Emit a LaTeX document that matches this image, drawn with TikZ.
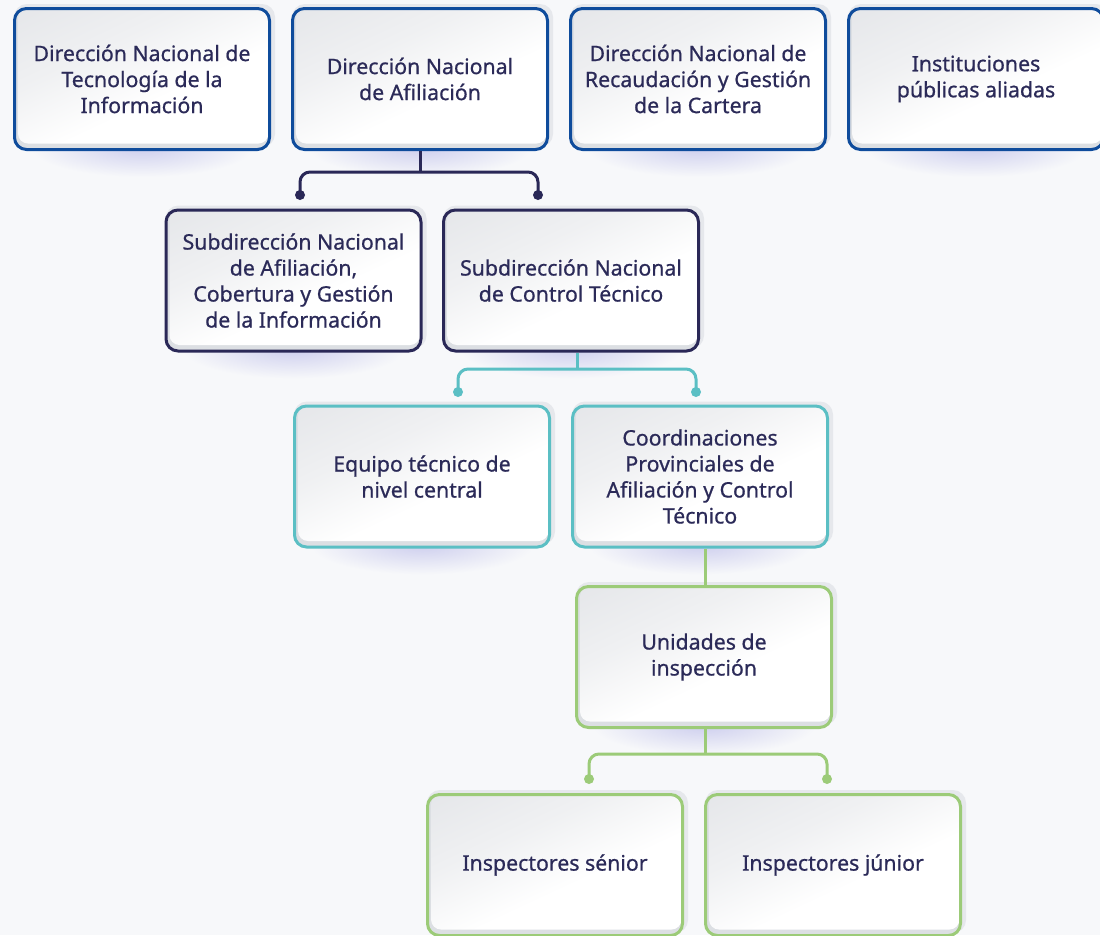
\documentclass[tikz,border=0pt]{standalone}
\usepackage{fontspec}
\newfontfamily\boxfont[FakeBold=0.7]{Noto Sans}
\usetikzlibrary{calc}

\definecolor{bg}{HTML}{F7F8FA}
\definecolor{ink}{HTML}{2B2A58}
\definecolor{cblue}{HTML}{0F4C9C}
\definecolor{cnavy}{HTML}{2A2857}
\definecolor{cteal}{HTML}{5BBFC4}
\definecolor{cgreen}{HTML}{9CCB78}
\definecolor{halo}{HTML}{E6E8EC}
\definecolor{bevel}{HTML}{DCDFE3}
\definecolor{fillgray}{HTML}{DDDFE3}
\definecolor{shadowc}{HTML}{CDCEEE}

% light gray at the top fading to white over the lower half
\pgfdeclareverticalshading{boxfade}{100bp}{%
  color(0bp)=(white); color(42bp)=(white); color(62bp)=(fillgray!45!white); color(100bp)=(fillgray)}

\pgfdeclarelayer{back}
\pgfsetlayers{back,main}

\tikzset{
  orgbox/.style={draw=#1, line width=3pt, rounded corners=12pt,
    minimum width=255pt, minimum height=141pt, inner sep=0pt,
    align=center, text=ink, font=\boxfont\fontsize{21.3}{26}\selectfont,
    path picture={
      \fill[bevel] (path picture bounding box.south west)
        rectangle (path picture bounding box.north east);
      \shade[shading=boxfade, shading angle=25, rounded corners=10pt]
        ([shift={(3.5pt,6pt)}]path picture bounding box.south west)
        rectangle ([shift={(-1pt,0pt)}]path picture bounding box.north east);
    }},
  conn/.style={draw=#1, line width=3pt, rounded corners=10pt},
  enddot/.style={fill=#1}
}

\begin{document}
\begin{tikzpicture}[x=1pt, y=-1pt]
  \useasboundingbox (0,0) rectangle (1100,935);
  \clip (0,0) rectangle (1100,935);

  % boxes
  \node[orgbox=cblue] (b1) at (142,79) {Dirección Nacional de\\Tecnología de la\\Información};
  \node[orgbox=cblue] (b2) at (420,79) {Dirección Nacional\\de Afiliación};
  \node[orgbox=cblue] (b3) at (698,79) {Dirección Nacional de\\Recaudación y Gestión\\de la Cartera};
  \node[orgbox=cblue] (b4) at (976,79) {Instituciones\\públicas aliadas};

  \node[orgbox=cnavy] (b5) at (293.5,280.5) {Subdirección Nacional\\de Afiliación,\\Cobertura y Gestión\\de la Información};
  \node[orgbox=cnavy] (b6) at (571,280.5) {Subdirección Nacional\\de Control Técnico};

  \node[orgbox=cteal] (b7) at (422,476.5) {Equipo técnico de\\nivel central};
  \node[orgbox=cteal] (b8) at (700,476.5) {Coordinaciones\\Provinciales de\\Afiliación y Control\\Técnico};

  \node[orgbox=cgreen] (b9) at (704,657) {Unidades de\\inspección};

  \node[orgbox=cgreen] (b10) at (555,865) {Inspectores sénior};
  \node[orgbox=cgreen] (b11) at (833,865) {Inspectores júnior};

  % soft shadows and raised edges behind every box
  \begin{pgfonlayer}{back}
    \fill[bg] (0,0) rectangle (1100,935);
    \foreach \n in {b1,b2,b3,b4,b5,b6,b7,b8,b9,b10,b11}{
      \shade[inner color=shadowc, outer color=bg]
        ($(\n.south)+(0,-4)$) ellipse [x radius=112pt, y radius=30pt];
    }
    \foreach \n in {b1,b2,b3,b4,b5,b6,b7,b8,b9,b10,b11}{
      \fill[halo, rounded corners=13pt]
        ([shift={(1pt,4pt)}]\n.south west) rectangle ([shift={(4pt,3pt)}]\n.north east);
    }
  \end{pgfonlayer}

  % junctions and free ends
  \coordinate (j1) at (420,172);
  \coordinate (d5) at (300,195);
  \coordinate (d6) at (538,195);

  \coordinate (j2) at (577,369);
  \coordinate (d7) at (458,392);
  \coordinate (d8) at (696,392);

  \coordinate (j3) at (705,754);
  \coordinate (d10) at (589,779);
  \coordinate (d11) at (827,779);

  % Dirección Nacional de Afiliación -> subdirecciones
  \draw[conn=cnavy] (b2.south) -- (j1);
  \draw[conn=cnavy] (d5) -- (d5 |- j1) -- (d6 |- j1) -- (d6);
  \fill[enddot=cnavy] (d5) circle (5pt);
  \fill[enddot=cnavy] (d6) circle (5pt);

  % Subdirección de Control Técnico -> equipos
  \draw[conn=cteal] (b6.south -| j2) -- (j2);
  \draw[conn=cteal] (d7) -- (d7 |- j2) -- (d8 |- j2) -- (d8);
  \fill[enddot=cteal] (d7) circle (5pt);
  \fill[enddot=cteal] (d8) circle (5pt);

  % Coordinaciones -> Unidades de inspección
  \draw[conn=cgreen] (b8.south -| j3) -- (b9.north -| j3);

  % Unidades de inspección -> inspectores
  \draw[conn=cgreen] (b9.south -| j3) -- (j3);
  \draw[conn=cgreen] (d10) -- (d10 |- j3) -- (d11 |- j3) -- (d11);
  \fill[enddot=cgreen] (d10) circle (5pt);
  \fill[enddot=cgreen] (d11) circle (5pt);
\end{tikzpicture}
\end{document}
